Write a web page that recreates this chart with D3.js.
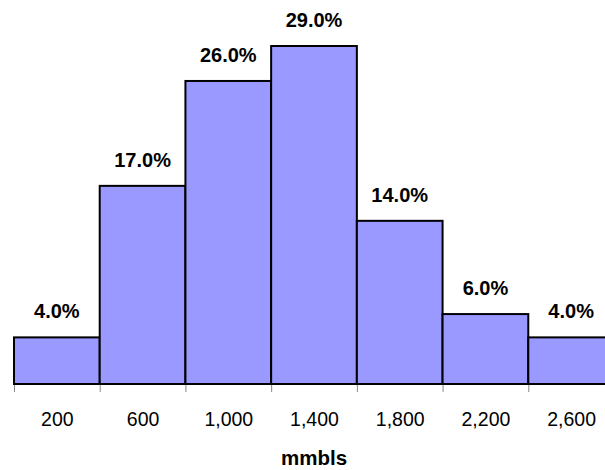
<!DOCTYPE html>
<html>
<head>
<meta charset="utf-8">
<script src="https://cdn.jsdelivr.net/npm/d3@7"></script>
<style>
  html, body { margin: 0; padding: 0; background: #fff; }
  svg { display: block; font-family: "Liberation Sans", Arial, sans-serif; }
</style>
</head>
<body>
<svg id="chart" width="605" height="470"></svg>
<script>
const binCenters = [200, 600, 1000, 1400, 1800, 2200, 2600];
const binWidth = 400;
const percents = [4.0, 17.0, 26.0, 29.0, 14.0, 6.0, 4.0];
const tickLabels = ["200", "600", "1,000", "1,400", "1,800", "2,200", "2,600"];
const boundaries = [0, 400, 800, 1200, 1600, 2000, 2400, 2800];
const axisTitle = "mmbls";

const svg = d3.select("#chart");
const x = d3.scaleLinear().domain([0, 2800]).range([14, 614]);
const y = d3.scaleLinear().domain([0, 29]).range([384, 46]);

const data = binCenters.map((c, i) => ({ c, v: percents[i], label: tickLabels[i] }));

// tick marks at bin boundaries
const tickAxis = d3.axisBottom(x).tickValues(boundaries).tickFormat("").tickSize(8).tickSizeOuter(0);
const gt = svg.append("g").attr("transform", `translate(0,${y(0)})`).call(tickAxis);
gt.select(".domain").remove();
gt.selectAll(".tick line").attr("stroke", "#888").attr("stroke-width", 1);

// bars
svg.append("g").selectAll("rect").data(data).join("rect")
  .attr("x", d => x(d.c - binWidth / 2))
  .attr("y", d => y(d.v))
  .attr("width", d => x(d.c + binWidth / 2) - x(d.c - binWidth / 2))
  .attr("height", d => y(0) - y(d.v))
  .attr("fill", "#9999FF")
  .attr("stroke", "#000")
  .attr("stroke-width", 2);

// value labels
svg.append("g").selectAll("text").data(data).join("text")
  .attr("x", d => x(d.c))
  .attr("y", d => y(d.v) - 19)
  .attr("text-anchor", "middle")
  .attr("font-size", 20)
  .attr("font-weight", "bold")
  .attr("fill", "#000")
  .text(d => d3.format(".1f")(d.v) + "%");

// category labels
const labAxis = d3.axisBottom(x).tickValues(binCenters).tickFormat((d, i) => tickLabels[i]).tickSize(0).tickPadding(0);
const gl = svg.append("g").attr("transform", `translate(0,${y(0)})`).call(labAxis);
gl.select(".domain").remove();
gl.selectAll(".tick text")
  .attr("y", 42)
  .attr("dy", 0)
  .attr("font-size", 19.5)
  .attr("font-family", "Liberation Sans, Arial, sans-serif")
  .attr("fill", "#000");

svg.append("text")
  .attr("x", x(1400))
  .attr("y", 465)
  .attr("text-anchor", "middle")
  .attr("font-size", 20.5)
  .attr("font-weight", "bold")
  .text(axisTitle);
</script>
</body>
</html>
